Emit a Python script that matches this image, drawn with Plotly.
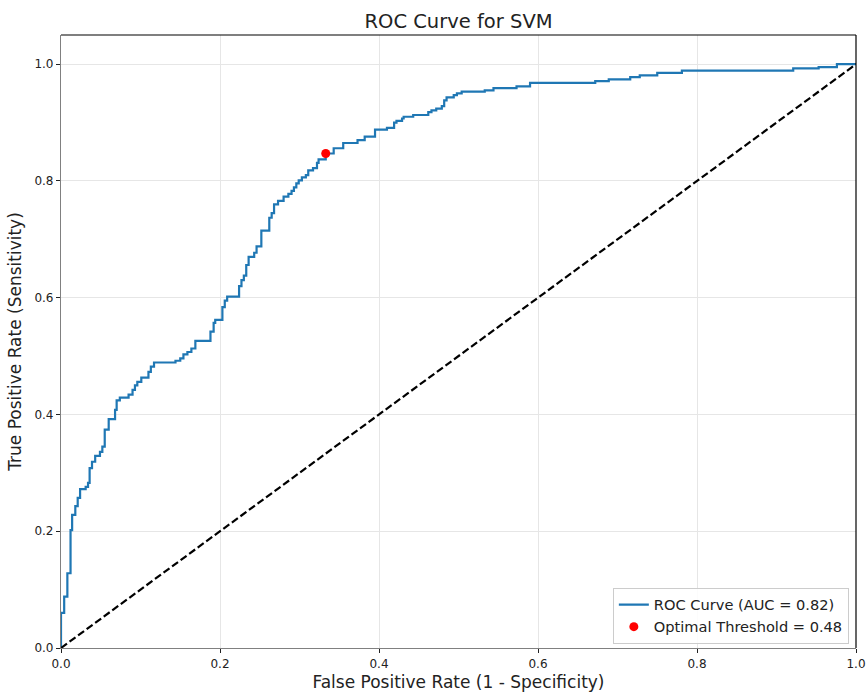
import plotly.graph_objects as go

# ROC step vertices: at each fpr the tpr rises to the given level
fpr = [0.0, 0.0, 0.004, 0.008, 0.012, 0.014, 0.018, 0.021, 0.024, 0.031, 0.034,
       0.036, 0.039, 0.043, 0.049, 0.052, 0.055, 0.060, 0.068, 0.070, 0.074,
       0.085, 0.090, 0.093, 0.096, 0.101, 0.110, 0.113, 0.117, 0.144, 0.150,
       0.154, 0.159, 0.164, 0.169, 0.188, 0.192, 0.194, 0.203, 0.206, 0.209,
       0.224, 0.227, 0.230, 0.233, 0.236, 0.243, 0.246, 0.252, 0.262, 0.265,
       0.268, 0.273, 0.280, 0.286, 0.290, 0.293, 0.296, 0.299, 0.303, 0.308,
       0.311, 0.317, 0.322, 0.324, 0.333, 0.343, 0.355, 0.373, 0.382, 0.395,
       0.410, 0.419, 0.422, 0.429, 0.431, 0.443, 0.462, 0.466, 0.472, 0.479,
       0.482, 0.485, 0.494, 0.498, 0.504, 0.533, 0.544, 0.573, 0.590, 0.672,
       0.689, 0.716, 0.728, 0.750, 0.781, 0.921, 0.953, 0.976, 1.0]
tpr = [0.0, 0.060, 0.088, 0.128, 0.202, 0.228, 0.243, 0.257, 0.272, 0.276, 0.283,
       0.308, 0.319, 0.329, 0.336, 0.345, 0.374, 0.392, 0.408, 0.424, 0.429,
       0.434, 0.442, 0.450, 0.456, 0.463, 0.473, 0.482, 0.489, 0.492, 0.496,
       0.503, 0.507, 0.513, 0.526, 0.542, 0.557, 0.562, 0.584, 0.595, 0.602,
       0.620, 0.630, 0.638, 0.656, 0.670, 0.677, 0.688, 0.715, 0.737, 0.745,
       0.760, 0.766, 0.773, 0.778, 0.783, 0.789, 0.796, 0.801, 0.806, 0.810,
       0.818, 0.822, 0.831, 0.837, 0.847, 0.856, 0.865, 0.870, 0.876, 0.888,
       0.891, 0.900, 0.903, 0.907, 0.910, 0.913, 0.918, 0.921, 0.924, 0.928,
       0.938, 0.943, 0.947, 0.950, 0.953, 0.955, 0.959, 0.962, 0.968, 0.971,
       0.974, 0.978, 0.981, 0.985, 0.989, 0.993, 0.995, 1.0, 1.0]

chance_x = [0, 1]
chance_y = [0, 1]

optimal_fpr = [0.333]
optimal_tpr = [0.847]

auc_value = 0.82
threshold_value = 0.48

ticks = [0.0, 0.2, 0.4, 0.6, 0.8, 1.0]
tick_text = ["0.0", "0.2", "0.4", "0.6", "0.8", "1.0"]

FONT = "DejaVu Sans"

fig = go.Figure()
fig.add_trace(go.Scatter(
    x=fpr, y=tpr, mode="lines", line=dict(color="#1f77b4", width=2.2, shape="hv"),
    name=f"ROC Curve (AUC = {auc_value:.2f})"))
fig.add_trace(go.Scatter(
    x=chance_x, y=chance_y, mode="lines",
    line=dict(color="black", width=2.2, dash="7.4px,3.2px"), showlegend=False))
fig.add_trace(go.Scatter(
    x=optimal_fpr, y=optimal_tpr, mode="markers",
    marker=dict(color="red", size=9),
    name=f"Optimal Threshold = {threshold_value:.2f}"))

axis_common = dict(
    tickvals=ticks, ticktext=tick_text, ticks="outside", ticklen=4, tickwidth=1,
    tickcolor="#222", showgrid=True, gridcolor="#e6e6e6", gridwidth=1,
    zeroline=False, showline=True, linecolor="#808080", linewidth=1.2,
    tickfont=dict(family=FONT, size=12, color="#222"), automargin=False,
)

fig.update_layout(
    width=866, height=696,
    margin=dict(l=61, r=10, t=35, b=48),
    paper_bgcolor="white", plot_bgcolor="white",
    font=dict(family=FONT, color="#222"),
    title=dict(text="ROC Curve for SVM", x=0.5295, xanchor="center", y=0.969,
               yanchor="middle", font=dict(family=FONT, size=19.5, color="#222")),
    xaxis=dict(range=[0, 1], title=dict(text="False Positive Rate (1 - Specificity)",
               font=dict(family=FONT, size=17, color="#222"), standoff=6),
               **axis_common),
    yaxis=dict(range=[0, 1.05], title=dict(text="True Positive Rate (Sensitivity)",
               font=dict(family=FONT, size=17, color="#222"), standoff=8),
               **axis_common),
    legend=dict(x=0.991, y=0.007, xanchor="right", yanchor="bottom",
                bgcolor="rgba(255,255,255,0.85)", bordercolor="#cccccc",
                borderwidth=1, font=dict(family=FONT, size=14.6, color="#222"),
                itemwidth=30, tracegroupgap=0),
    showlegend=True,
)

# top and right spines
fig.add_shape(type="line", xref="paper", yref="paper", x0=0, x1=1, y0=1, y1=1,
              line=dict(color="black", width=1.2))
fig.add_shape(type="line", xref="paper", yref="paper", x0=1, x1=1, y0=0, y1=1,
              line=dict(color="black", width=1.2))

fig.write_html("out.html")
